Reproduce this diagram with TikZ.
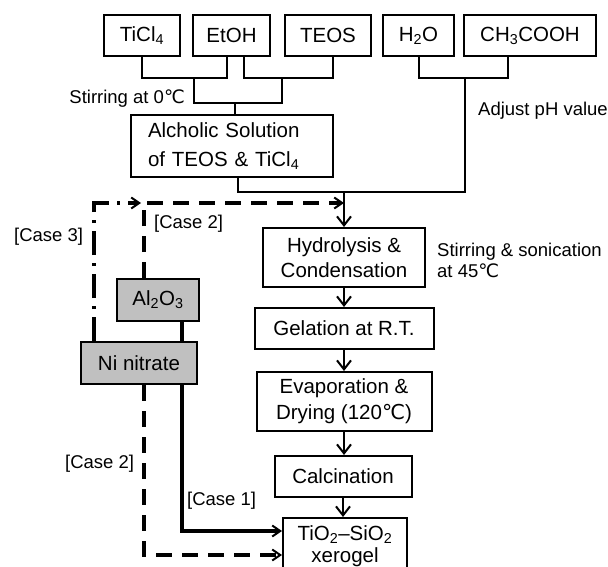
\documentclass[tikz,border=0pt]{standalone}
\usepackage{fontspec}
\setmainfont{Liberation Sans}
\newfontfamily\dejavu{DejaVu Sans}
\usetikzlibrary{arrows.meta,calc}
\newcommand\myC{{\dejavu ℃}}
\newcommand\chsub[1]{\textsubscript{#1}}
\definecolor{boxgray}{RGB}{192,192,192}
\begin{document}
\begin{tikzpicture}[x=1pt,y=-1pt,
  box/.style={draw, line width=2pt, inner sep=0pt, align=center, font=\fontsize{20.5}{25}\selectfont},
  gbox/.style={box, fill=boxgray},
  lbl/.style={inner sep=0pt, font=\fontsize{18.5}{21}\selectfont},
  ln/.style={line width=2pt},
  arr/.style={line width=2pt, -{Straight Barb[length=9pt,width=14pt,line width=2pt]}},
  ctip/.style={-{Straight Barb[length=8pt,width=11pt,line width=2pt]}},
  thk/.style={line width=3.4pt},
  dsh/.style={thk, dash pattern=on 16pt off 10pt},
  ddot/.style={thk, dash pattern=on 24pt off 8pt on 3pt off 8pt}]
\clip (0,0) rectangle (608,567);
\fill[white] (0,0) rectangle (608,567);
% top row
\node[box, minimum width=76pt, minimum height=41pt] (ticl) at (142,35.5) {TiCl\chsub{4}};
\node[box, minimum width=77pt, minimum height=41pt] (etoh) at (231.5,35.5) {EtOH};
\node[box, minimum width=86pt, minimum height=41pt] (teos) at (328,35.5) {TEOS};
\node[box, minimum width=71pt, minimum height=41pt] (h2o) at (418.5,35.5) {H\chsub{2}O};
\node[box, minimum width=132pt, minimum height=41pt] (acid) at (530,35.5) {CH\chsub{3}COOH};
% alcoholic solution
\node[box, minimum height=62pt, text width=168pt, inner xsep=17pt, align=left,
      font=\fontsize{20.5}{29}\selectfont] (alc) at (232,146) {Alcholic Solution\\of TEOS \& TiCl\chsub{4}};
% main column
\node[box, minimum width=162pt, minimum height=59pt] (hyd) at (344,257.5) {Hydrolysis \&\\Condensation};
\node[box, minimum width=179pt, minimum height=41pt] (gel) at (344,328.5) {Gelation at R.T.};
\node[box, minimum width=175pt, minimum height=59pt, font=\fontsize{20.5}{26}\selectfont] (eva) at (344,401.5) {Evaporation \&\\Drying (120\myC)};
\node[box, minimum width=137pt, minimum height=41pt] (calc) at (343,476.5) {Calcination};
\node[box, minimum width=124pt, minimum height=56pt, font=\fontsize{20.5}{22}\selectfont] (xero) at (345,546) {TiO\chsub{2}–SiO\chsub{2}\\xerogel};
% gray boxes
\node[gbox, minimum width=82pt, minimum height=42pt] (al) at (158,300) {Al\chsub{2}O\chsub{3}};
\node[gbox, minimum width=116pt, minimum height=42pt] (ni) at (139,363) {Ni nitrate};
% labels
\node[lbl, anchor=east] (stir0) at (185,99) {Stirring at 0\myC};
\node[lbl, anchor=west] (adj) at (478,111) {Adjust pH value};
\node[lbl, anchor=west, align=left] (stir45) at (437,260.5) {Stirring \& sonication\\at 45\myC};
\node[lbl, anchor=west] (c3) at (14,237) {[Case 3]};
\node[lbl, anchor=west] (c2a) at (154,224) {[Case 2]};
\node[lbl, anchor=west] (c2b) at (65,464) {[Case 2]};
\node[lbl, anchor=west] (c1) at (187,501) {[Case 1]};
% junctions
\coordinate (j1) at (194,78);
\coordinate (j2) at (282,78);
\coordinate (j3) at (235,103);
\coordinate (j4) at (465,78);
\coordinate (j5) at (344,192);
\coordinate (t2) at (144,203);
\coordinate (k1) at (182,531);
\coordinate (k2) at (144,555);
% brackets
\draw[ln] (ticl.south) |- ([xshift=-4.5pt]etoh.south |- j1) -- ([xshift=-4.5pt]etoh.south);
\draw[ln] ([xshift=12.5pt]etoh.south) |- ([xshift=5pt]teos.south |- j2) -- ([xshift=5pt]teos.south);
\draw[ln] (j1) |- (j3 -| j2) -- (j2);
\draw[ln] (j3) -- (j3 |- alc.north);
\draw[ln] (h2o.south) |- ([xshift=-22pt]acid.south |- j4) -- ([xshift=-22pt]acid.south);
\draw[ln] ([xshift=6pt]alc.south) |- (j5 -| j4) -- (j4);
% main arrows
\draw[arr] (j5) -- (hyd.north);
\draw[arr] (hyd.south) -- (gel.north);
\draw[arr] (gel.south) -- (eva.north);
\draw[arr] (eva.south) -- (eva.south |- calc.north);
\draw[arr] (calc.south) -- (calc.south |- xero.north);
% cases
\draw[dsh, ctip] ([xshift=-14pt]al.north) |- (j5 |- t2);
\draw[ddot, ctip, shorten >=3pt] ([xshift=-45pt]ni.north) |- (t2);
\draw[thk] ([xshift=24pt]al.south) -- ([xshift=24pt]al.south |- ni.north);
\draw[thk, ctip] ([xshift=43pt]ni.south) |- (xero.west |- k1);
\draw[dsh, ctip] ([xshift=5pt]ni.south) |- (xero.west |- k2);
\end{tikzpicture}
\end{document}
